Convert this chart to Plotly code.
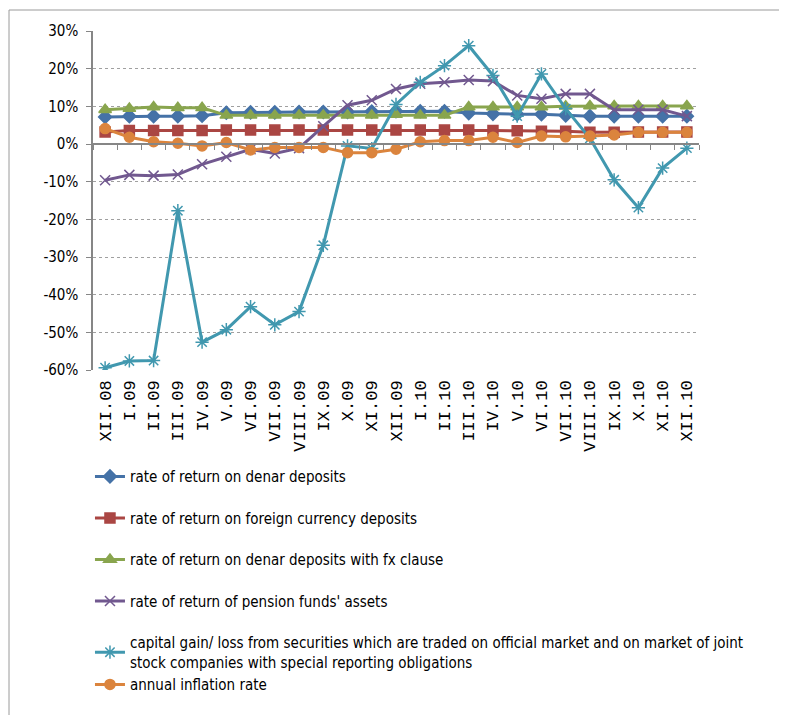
import plotly.graph_objects as go

months = ['XII.08', 'I.09', 'II.09', 'III.09', 'IV.09', 'V.09', 'VI.09', 'VII.09', 'VIII.09',
          'IX.09', 'X.09', 'XI.09', 'XII.09', 'I.10', 'II.10', 'III.10', 'IV.10', 'V.10',
          'VI.10', 'VII.10', 'VIII.10', 'IX.10', 'X.10', 'XI.10', 'XII.10']

denar = [7.2, 7.4, 7.4, 7.4, 7.5, 8.3, 8.4, 8.4, 8.5, 8.5, 8.5, 8.6, 8.7,
         8.7, 8.7, 8.2, 8.0, 7.9, 7.9, 7.6, 7.4, 7.4, 7.4, 7.4, 7.4]
foreign = [3.2, 3.6, 3.6, 3.6, 3.6, 3.7, 3.7, 3.7, 3.7, 3.7, 3.7, 3.7, 3.7,
           3.7, 3.7, 3.7, 3.6, 3.5, 3.4, 3.4, 3.1, 3.1, 3.2, 3.2, 3.2]
fx_clause = [9.1, 9.4, 9.8, 9.6, 9.6, 7.6, 7.6, 7.6, 7.6, 7.6, 7.6, 7.6, 7.8,
             7.6, 7.6, 9.8, 9.8, 9.8, 9.8, 10.0, 10.1, 10.1, 10.1, 10.1, 10.1]
pension = [-9.6, -8.2, -8.4, -8.1, -5.4, -3.4, -1.4, -2.5, -1.1, 4.7, 10.3, 11.6, 14.6,
           16.0, 16.4, 17.0, 16.7, 12.9, 12.0, 13.3, 13.3, 9.1, 9.1, 9.1, 7.4]
capital = [-59.4, -57.6, -57.5, -17.7, -52.6, -49.3, -43.2, -48.0, -44.5, -26.9, -0.5, -1.2, 10.5,
           16.4, 20.8, 26.1, 18.2, 7.4, 18.6, 9.4, 1.5, -9.5, -16.9, -6.4, -1.1]
inflation = [4.1, 1.8, 0.6, 0.2, -0.5, 0.4, -1.6, -0.9, -0.9, -0.9, -2.3, -2.3, -1.4,
             0.6, 0.9, 0.9, 1.8, 0.4, 2.1, 1.9, 2.1, 2.4, 3.1, 3.1, 3.1]

ytick_vals = [0.3, 0.2, 0.1, 0.0, -0.1, -0.2, -0.3, -0.4, -0.5, -0.6]
ytick_text = ['30%', '20%', '10%', '0%', '-10%', '-20%', '-30%', '-40%', '-50%', '-60%']

series = [
    ("rate of return on denar deposits", denar, '#4572A7', 'diamond', 10, 'g1'),
    ("rate of return on foreign currency deposits", foreign, '#AA4643', 'square', 10, 'g2'),
    ("rate of return on denar deposits with fx clause", fx_clause, '#89A54E', 'triangle-up', 11, 'g3'),
    ("rate of return of pension funds' assets", pension, '#71588F', 'x-thin-open', 10, 'g4'),
    ("capital gain/ loss from securities which are traded on official market and on market of joint<br>stock companies with special reporting obligations",
     capital, '#4198AF', 'asterisk-open', 11, 'g5'),
    ("annual inflation rate", inflation, '#DB843D', 'circle', 10, 'g5'),
]

fig = go.Figure()
for name, vals, col, sym, sz, grp in series:
    fig.add_trace(go.Scatter(
        x=months, y=[v / 100 for v in vals], name=name, mode='lines+markers',
        line=dict(color=col, width=3),
        marker=dict(symbol=sym, size=sz, color=col, line=dict(color=col, width=1.5)),
        legendgroup=grp,
    ))

# invisible trace carrying the tick marks on the zero line
fig.add_trace(go.Scatter(x=months, y=[0] * len(months), xaxis='x2', mode='lines',
                         line=dict(width=0), showlegend=False, hoverinfo='skip'))

# page body has an 8px margin, so the figure is 8px smaller than the window
W, H = 779, 707
L, R, T, B = 85, 88, 23, 345
pw, ph = W - L - R, H - T - B

fig.update_layout(
    width=W, height=H,
    margin=dict(l=L, r=R, t=T, b=B, autoexpand=False),
    paper_bgcolor='white', plot_bgcolor='white',
    font=dict(family='Liberation Sans Narrow, DejaVu Sans Condensed, DejaVu Sans, sans-serif',
              size=15, color='#000000'),
    showlegend=True,
    legend=dict(x=-0.005, y=-0.266, xanchor='left', yanchor='top',
                font=dict(size=15), tracegroupgap=19, itemwidth=30,
                bgcolor='rgba(0,0,0,0)'),
    xaxis=dict(type='category', range=[-0.5, 24.5], showgrid=False, showline=False,
               ticks='', tickangle=-90, ticklabelstandoff=6,
               tickfont=dict(family='Liberation Mono, DejaVu Sans Mono, monospace', size=17),
               zeroline=False),
    xaxis2=dict(type='category', overlaying='x', anchor='free', position=60 / 90,
                range=[-0.5, 24.5], matches='x', showline=True, linecolor='#868686',
                linewidth=1.5, ticks='outside', ticklen=5, tickcolor='#868686',
                tickson='boundaries', showticklabels=False, showgrid=False, side='bottom'),
    yaxis=dict(range=[-0.6, 0.3], tickmode='array', tickvals=ytick_vals, ticktext=ytick_text,
               showline=True, linecolor='#868686', linewidth=1.5, ticks='outside', ticklen=5,
               tickcolor='#868686', ticklabelstandoff=5, showgrid=True, gridcolor='#A0A0A0',
               griddash='dot', gridwidth=1, zeroline=False, tickfont=dict(size=15)),
)

# frame lines at left and top of the figure
fx = (1 - L) / pw
fy = (H - B - 2) / ph
fig.add_shape(type='line', xref='paper', yref='paper', x0=fx, x1=fx, y0=-B / ph, y1=fy,
              line=dict(color='#9A9A9A', width=1))
fig.add_shape(type='line', xref='paper', yref='paper', x0=fx, x1=(W - L) / pw, y0=fy, y1=fy,
              line=dict(color='#9A9A9A', width=1))

fig.write_html("out.html")
